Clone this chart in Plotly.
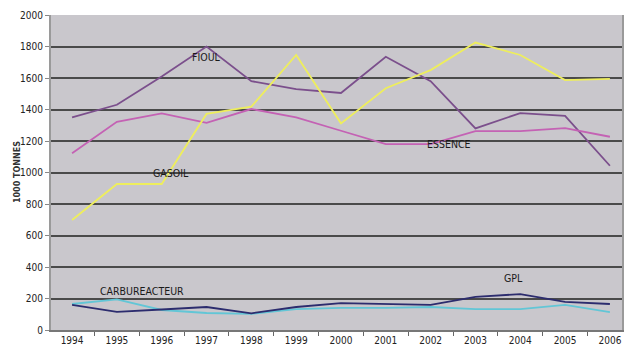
import plotly.graph_objects as go

years = list(range(1994, 2007))
fioul = [1350, 1430, 1610, 1800, 1580, 1530, 1505, 1735, 1580, 1280, 1377, 1360, 1043]
essence = [1122, 1322, 1375, 1315, 1403, 1350, 1265, 1180, 1180, 1263, 1263, 1282, 1227]
gasoil = [698, 927, 927, 1372, 1418, 1746, 1312, 1535, 1650, 1825, 1746, 1587, 1594]
gpl = [159, 115, 130, 146, 106, 146, 171, 165, 159, 210, 228, 178, 165]
carbu = [165, 195, 127, 108, 103, 133, 140, 140, 146, 133, 133, 159, 114]

series = [
    ("FIOUL", fioul, "#7b4f8c"),
    ("ESSENCE", essence, "#c462b4"),
    ("GASOIL", gasoil, "#eeee5c"),
    ("CARBUREACTEUR", carbu, "#62c6d6"),
    ("GPL", gpl, "#2c2c6e"),
]

labels = [
    ("FIOUL", 1997.0, 1735),
    ("ESSENCE", 2002.4, 1180),
    ("GASOIL", 1996.2, 1000),
    ("CARBUREACTEUR", 1995.55, 245),
    ("GPL", 2003.85, 330),
]

font_fam = "Liberation Sans Narrow, Arial Narrow, DejaVu Sans Condensed, Liberation Sans, sans-serif"
label_fam = "DejaVu Sans Condensed, Liberation Sans Narrow, sans-serif"

fig = go.Figure()
for name, vals, col in series:
    fig.add_trace(go.Scatter(x=years, y=vals, mode="lines", name=name,
                             line=dict(color=col, width=1.8)))

for txt, x, y in labels:
    fig.add_annotation(x=x, y=y, text=txt, showarrow=False,
                       font=dict(family=label_fam, size=10.5, color="#1a1a1a"))

fig.add_annotation(xref="paper", yref="paper", x=-0.07, y=0.5,
                   text="<b>1000 TONNES</b>", textangle=-90, showarrow=False,
                   font=dict(family="DejaVu Sans, sans-serif", size=8, color="#333"))

fig.update_layout(
    width=624, height=356,
    margin=dict(l=51, r=0, t=15, b=26),
    paper_bgcolor="white",
    plot_bgcolor="#c9c7cc",
    showlegend=False,
    xaxis=dict(range=[1993.53, 2006.27], tickmode="array", tickvals=years,
               ticktext=[str(y) for y in years], ticklen=0, showgrid=False,
               showline=True, linecolor="#777", linewidth=1.5,
               tickfont=dict(family=font_fam, size=10, color="#222"),
               minor=dict(tickmode="linear", tick0=1993.5, dtick=1, ticks="outside",
                          ticklen=4, tickcolor="#666", showgrid=False),
               zeroline=False),
    yaxis=dict(range=[0, 2000], dtick=200, showgrid=True, gridcolor="#4a4a4a",
               gridwidth=2, showline=True, linecolor="#9a9a9a", linewidth=2,
               mirror=True, ticks="outside", ticklen=4, tickcolor="#888",
               tickfont=dict(family=font_fam, size=10, color="#222"),
               zeroline=False),
)

fig.write_html("out.html")
